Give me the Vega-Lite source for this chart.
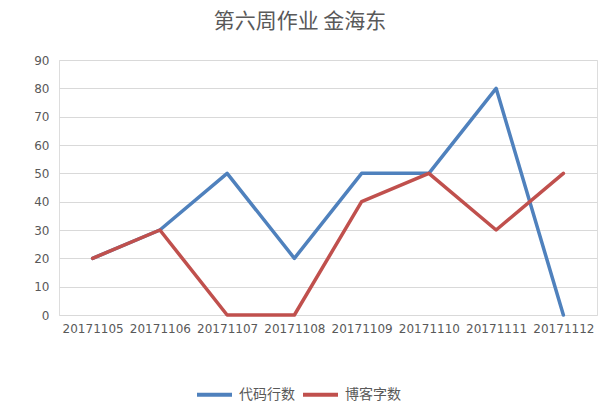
{
  "$schema": "https://vega.github.io/schema/vega-lite/v6.json",
  "autosize": "none",
  "width": 538,
  "height": 255,
  "padding": {"left": 59, "top": 60, "right": 5, "bottom": 97},
  "background": "white",
  "title": {
    "text": "第六周作业 金海东",
    "font": "Noto Sans CJK SC",
    "fontSize": 21,
    "fontWeight": "normal",
    "color": "#595959",
    "anchor": "middle",
    "dx": -28,
    "offset": 22
  },
  "data": {
    "values": [
      {"date": "20171105", "series": "代码行数", "value": 20},
      {"date": "20171106", "series": "代码行数", "value": 30},
      {"date": "20171107", "series": "代码行数", "value": 50},
      {"date": "20171108", "series": "代码行数", "value": 20},
      {"date": "20171109", "series": "代码行数", "value": 50},
      {"date": "20171110", "series": "代码行数", "value": 50},
      {"date": "20171111", "series": "代码行数", "value": 80},
      {"date": "20171112", "series": "代码行数", "value": 0},
      {"date": "20171105", "series": "博客字数", "value": 20},
      {"date": "20171106", "series": "博客字数", "value": 30},
      {"date": "20171107", "series": "博客字数", "value": 0},
      {"date": "20171108", "series": "博客字数", "value": 0},
      {"date": "20171109", "series": "博客字数", "value": 40},
      {"date": "20171110", "series": "博客字数", "value": 50},
      {"date": "20171111", "series": "博客字数", "value": 30},
      {"date": "20171112", "series": "博客字数", "value": 50}
    ]
  },
  "mark": {"type": "line", "strokeWidth": 3.5, "strokeCap": "round", "strokeJoin": "round"},
  "encoding": {
    "x": {
      "field": "date",
      "type": "ordinal",
      "scale": {"type": "point", "padding": 0.5},
      "axis": {
        "title": null,
        "labelAngle": 0,
        "ticks": false,
        "domain": false,
        "grid": false,
        "labelPadding": 8,
        "labelFont": "DejaVu Sans",
        "labelFontSize": 12,
        "labelColor": "#595959"
      }
    },
    "y": {
      "field": "value",
      "type": "quantitative",
      "scale": {"domain": [0, 90], "nice": false},
      "axis": {
        "title": null,
        "values": [0, 10, 20, 30, 40, 50, 60, 70, 80, 90],
        "ticks": false,
        "domain": false,
        "grid": true,
        "gridColor": "#d9d9d9",
        "gridWidth": 1,
        "labelPadding": 10,
        "labelFont": "DejaVu Sans",
        "labelFontSize": 12,
        "labelColor": "#595959"
      }
    },
    "color": {
      "field": "series",
      "type": "nominal",
      "scale": {"domain": ["代码行数", "博客字数"], "range": ["#4F81BD", "#C0504D"]},
      "legend": {
        "title": null,
        "orient": "none",
        "direction": "horizontal",
        "legendX": 136,
        "legendY": 315,
        "symbolType": "stroke",
        "symbolSize": 1225,
        "symbolStrokeWidth": 4,
        "labelFont": "Noto Sans CJK SC",
        "labelFontSize": 14,
        "labelColor": "#595959",
        "columnPadding": 0,
        "labelOffset": 5
      }
    }
  }
}
